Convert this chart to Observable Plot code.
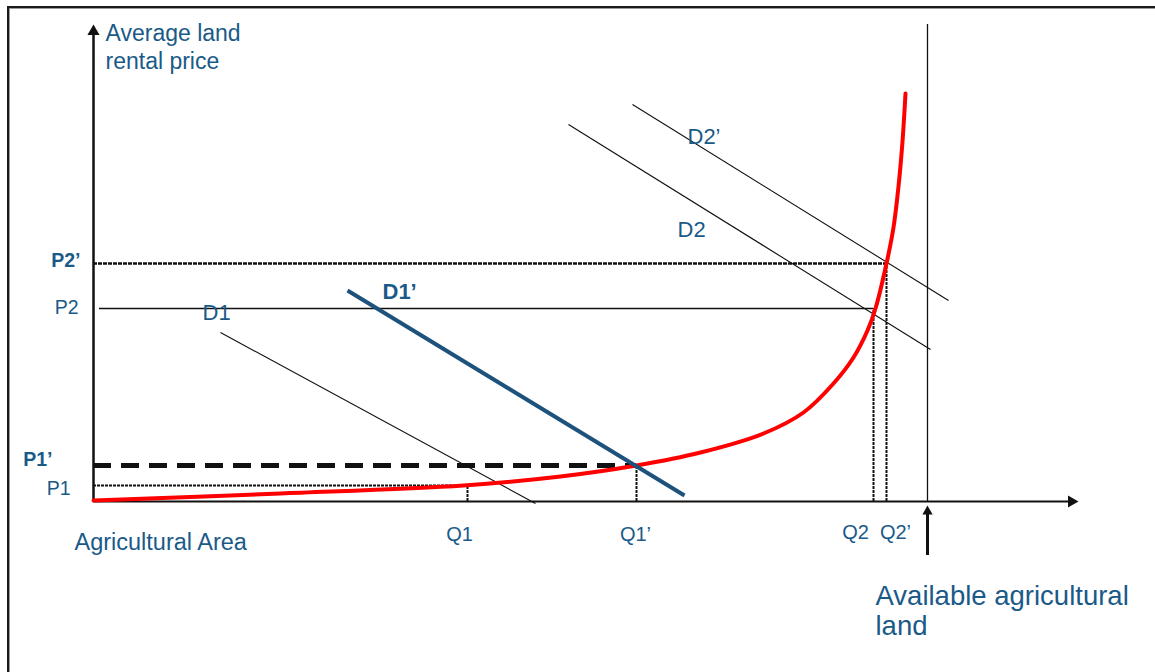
<!DOCTYPE html>
<html>
<head>
<meta charset="utf-8">
<script src="https://cdn.jsdelivr.net/npm/d3@7"></script>
<script src="https://cdn.jsdelivr.net/npm/@observablehq/plot@0.6"></script>
<style>
  html, body { margin: 0; padding: 0; background: #fff; }
  #wrap { position: relative; width: 1155px; height: 672px; overflow: hidden; }
  #frame { position: absolute; left: 7px; top: 6px; right: -10px; bottom: -10px;
           border-left: 2px solid #1a1a1a; border-top: 2px solid #1a1a1a;
           box-shadow: inset 1px 1px 0 #9a9a9a; pointer-events: none; }
</style>
</head>
<body>
<div id="wrap"><div id="frame"></div></div>
<script>
// ---- schematic data (area units on x, price units on y; origin = axes origin) ----
const curveArea  = [0, 187, 370, 467, 543, 607, 670, 710, 740, 760, 774, 782, 793, 800, 805, 809, 812];
const curvePrice = [1,   8,  16,  25,  36,  49,  68,  89, 118, 144, 171, 193, 238, 274, 315, 360, 408];

const priceNames     = ["P1", "P1’", "P2", "P2’"];
const priceValues    = [16, 36, 193, 238];
const quantityNames  = ["Q1", "Q1’", "Q2", "Q2’"];
const quantityValues = [374, 543, 780, 793];

const demandNames  = ["D1", "D1’", "D2", "D2’"];
const demandArea1  = [127, 254, 475, 539];
const demandPrice1 = [169, 211, 377, 397];
const demandArea2  = [442, 591, 837, 855];
const demandPrice2 = [-2, 6, 152, 201];

const availableLand = 834;
const axisEndArea = 985;
const axisEndPrice = 477;

const axisTitleY = "Average land\nrental price";
const axisTitleX = "Agricultural Area";
const availableLabel = "Available agricultural\nland";

// ---- styling / layout (not data) ----
const ink = "#111";
const textBlue = "#1a5a88";
const d1pBlue = "#1d527c";
const font = "'Liberation Sans', Arial, sans-serif";
const priceLabelOffset = [[-23, 9], [-41, 0], [-15, 5], [-13, 3]];
const quantityLabelOffset = [[-8, 39], [-1, 39], [-18, 37], [9, 37]];
const demandLabelOffset = [[-18, -13], [35, 8], [109, 112], [55, 39]];

const curve = curveArea.map((x, i) => ({x, y: curvePrice[i]}));
const idx = d3.range(4);

const marks = [];

// available land vertical line
marks.push(Plot.ruleX([availableLand], {y1: 0, y2: axisEndPrice, stroke: ink, strokeWidth: 1.3}));

// price guide lines
marks.push(Plot.ruleY([priceValues[0]], {x1: 0, x2: quantityValues[0], stroke: ink, strokeWidth: 2, strokeDasharray: "3 1"}));
marks.push(Plot.ruleY([priceValues[1]], {x1: 0, x2: quantityValues[1], stroke: ink, strokeWidth: 5, strokeDasharray: "18 10"}));
marks.push(Plot.ruleY([priceValues[2]], {x1: 6, x2: quantityValues[2], stroke: ink, strokeWidth: 1.4}));
marks.push(Plot.ruleY([priceValues[3]], {x1: 0, x2: quantityValues[3], stroke: ink, strokeWidth: 2.4, strokeDasharray: "4 1"}));

// quantity guide lines
marks.push(Plot.ruleX(idx, {x: i => quantityValues[i], y1: 0, y2: i => priceValues[i], stroke: ink, strokeWidth: 2, strokeDasharray: "3 1"}));

// demand lines (thin)
marks.push(Plot.link([0, 2, 3], {
  x1: i => demandArea1[i], y1: i => demandPrice1[i],
  x2: i => demandArea2[i], y2: i => demandPrice2[i],
  stroke: ink, strokeWidth: 1.1
}));

// axes
marks.push(Plot.ruleX([0], {y1: 0, y2: axisEndPrice - 5, stroke: ink, strokeWidth: 2.5}));
marks.push(Plot.ruleY([0], {x1: 0, x2: axisEndArea - 5, stroke: ink, strokeWidth: 2}));
marks.push(Plot.dot([{x: 0, y: axisEndPrice}], {x: "x", y: "y", symbol: "triangle", r: 4.5, fill: ink, stroke: null, dy: 7}));
marks.push(Plot.dot([{x: axisEndArea, y: 0}], {x: "x", y: "y", symbol: "triangle", r: 4.5, rotate: 90, fill: ink, stroke: null, dx: -7}));

// supply curve
marks.push(Plot.line(curve, {x: "x", y: "y", curve: "catmull-rom", stroke: "#ff0000", strokeWidth: 4}));

// D1' (thick blue)
marks.push(Plot.link([1], {
  x1: i => demandArea1[i], y1: i => demandPrice1[i],
  x2: i => demandArea2[i], y2: i => demandPrice2[i],
  stroke: d1pBlue, strokeWidth: 4
}));

// available land arrow
marks.push(Plot.ruleX([availableLand], {y1: -54, y2: -10, stroke: ink, strokeWidth: 3}));
marks.push(Plot.dot([{x: availableLand, y: 0}], {x: "x", y: "y", symbol: "triangle", r: 3.8, fill: ink, stroke: null, dy: 10}));

// texts
marks.push(Plot.text([axisTitleY], {x: 0, y: axisEndPrice, text: d => d, textAnchor: "start", lineAnchor: "top",
  dx: 12, dy: -3, fontSize: 23, lineHeight: 1.22, fill: textBlue, fontFamily: font}));
marks.push(Plot.text([axisTitleX], {x: 0, y: 0, text: d => d, textAnchor: "start", lineAnchor: "bottom",
  dx: -19, dy: 48, fontSize: 23.5, fill: textBlue, fontFamily: font}));
marks.push(Plot.text([availableLabel], {x: availableLand, y: 0, text: d => d, textAnchor: "start", lineAnchor: "top",
  dx: -52, dy: 82.5, fontSize: 27.5, lineHeight: 1.09, fill: textBlue, fontFamily: font}));

idx.forEach(i => {
  marks.push(Plot.text([i], {x: 0, y: priceValues[i], text: () => priceNames[i], textAnchor: "end", lineAnchor: "bottom",
    dx: priceLabelOffset[i][0], dy: priceLabelOffset[i][1], fontSize: 19.5,
    fontWeight: (i % 2 === 1) ? "bold" : "normal", fill: textBlue, fontFamily: font}));
  marks.push(Plot.text([i], {x: quantityValues[i], y: 0, text: () => quantityNames[i], textAnchor: "middle", lineAnchor: "bottom",
    dx: quantityLabelOffset[i][0], dy: quantityLabelOffset[i][1], fontSize: 20, fill: textBlue, fontFamily: font}));
  marks.push(Plot.text([i], {x: demandArea1[i], y: demandPrice1[i], text: () => demandNames[i], textAnchor: "start", lineAnchor: "bottom",
    dx: demandLabelOffset[i][0], dy: demandLabelOffset[i][1], fontSize: 22,
    fontWeight: i === 1 ? "bold" : "normal", fill: textBlue, fontFamily: font}));
});

const chart = Plot.plot({
  width: 1155,
  height: 672,
  margin: 0,
  x: {domain: [-93, 1062], axis: null},
  y: {domain: [-171, 501], axis: null},
  style: {fontFamily: font, background: "white", overflow: "visible"},
  marks
});
document.getElementById("wrap").insertBefore(chart, document.getElementById("frame"));
</script>
</body>
</html>
